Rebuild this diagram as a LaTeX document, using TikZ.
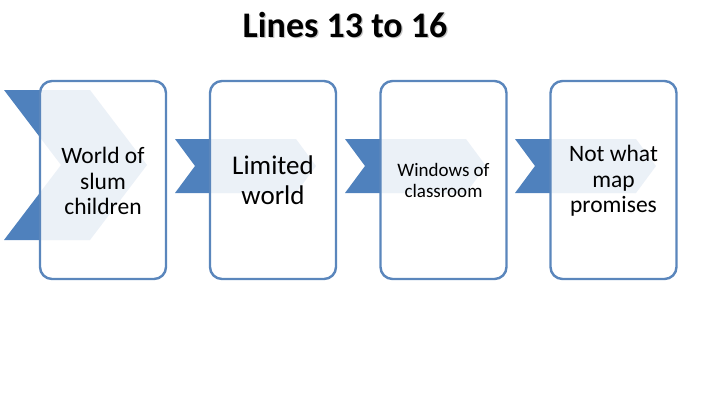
\documentclass[tikz,border=0pt]{standalone}
\usepackage{fontspec}
\setmainfont{Carlito}
\definecolor{chev}{HTML}{4F81BD}
\definecolor{edge}{HTML}{5A86BC}
\tikzset{
  x=1pt, y=-1pt,
  cardbox/.style={draw=edge, line width=2.4pt, rounded corners=12pt, fill=white, fill opacity=0.89, text opacity=1, minimum width=126pt, minimum height=198pt, inner sep=0pt},
  chevfill/.style={fill=chev},
  cardtext/.style={align=center, text=black, inner sep=0pt}
}
\begin{document}
\begin{tikzpicture}
\useasboundingbox (0,0) rectangle (720,405);
% title
\node[text=black!22, font=\bfseries\fontsize{36}{42}\selectfont] (tshadow) at (346.2,26.2) {Lines 13 to 16};
\node[text=black, font=\bfseries\fontsize{36}{42}\selectfont] (title) at (345,25) {Lines 13 to 16};
% chevrons
\fill[chevfill] (4,90) -- (90,90) -- (147,165) -- (90,240) -- (4,240) -- (61,165) -- cycle;
\foreach \dx in {0,170,340}{
  \fill[chevfill] (175+\dx,139) -- (296+\dx,139) -- (316+\dx,166) -- (296+\dx,193) -- (175+\dx,193) -- (195+\dx,166) -- cycle;
}
% boxes
\node[cardbox] (b1) at (103,180) {};
\node[cardbox] (b2) at (273,180) {};
\node[cardbox] (b3) at (443.5,180) {};
\node[cardbox] (b4) at (613.5,180) {};
% texts
\node[cardtext, font=\fontsize{23.5}{25.5}\selectfont] (t1) at (103,181) {World of\\slum\\children};
\node[cardtext, font=\fontsize{27}{30}\selectfont] (t2) at (273,180) {Limited\\world};
\node[cardtext, font=\fontsize{19}{21}\selectfont] (t3) at (443.5,180) {Windows of\\classroom};
\node[cardtext, font=\fontsize{23.5}{25.5}\selectfont] (t4) at (613.5,181) {Not what\\map\\promises};
\end{tikzpicture}
\end{document}
